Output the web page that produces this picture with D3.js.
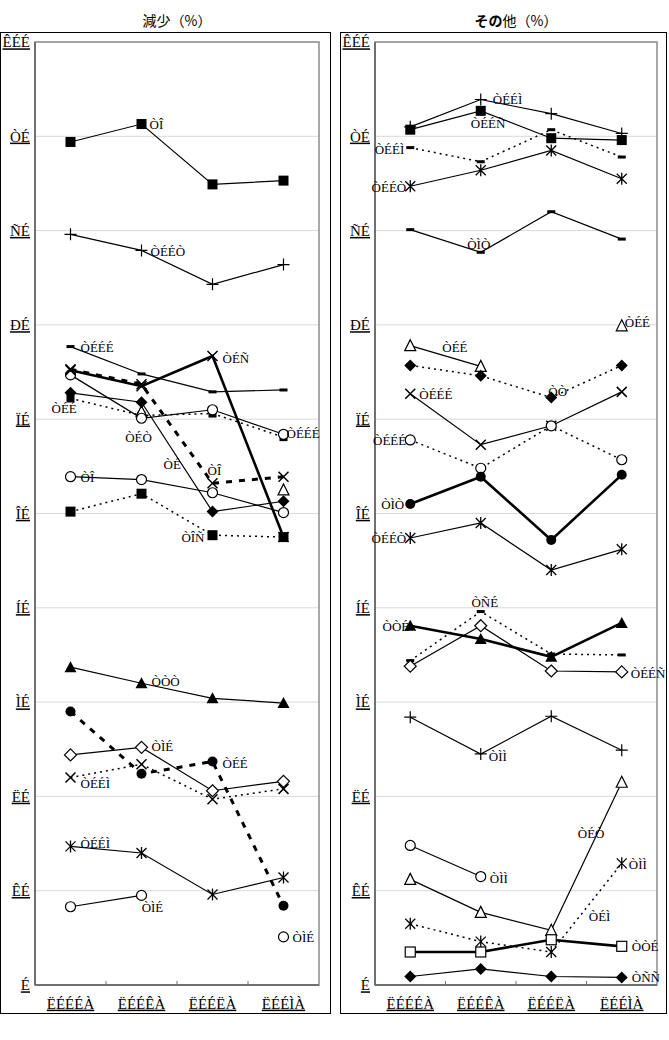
<!DOCTYPE html>
<html><head><meta charset="utf-8">
<script src="https://cdn.jsdelivr.net/npm/d3@7"></script>
<style>
body{margin:0;background:#fff;}
text{font-family:"Liberation Serif",serif;}
</style></head>
<body><svg id="c" width="669" height="1040"></svg>
<script>
// ---------- DATA ----------
const categories = ["ËÉÉÉÀ","ËÉÉÊÀ","ËÉÉËÀ","ËÉÉÌÀ"];
const yTicks = [0,10,20,30,40,50,60,70,80,90,100];

// left panel: 減少
const leftSquareTop   = [89.4, 91.3, 84.9, 85.3];
const leftPlus        = [79.6, 77.9, 74.3, 76.4];
const leftDashTop     = [67.7, 64.8, 62.9, 63.1];
const leftXThick      = [65.2, 63.5, 66.7, 47.5];
const leftXDashed     = [65.3, 63.7, 53.2, 53.9];
const leftCircleTop   = [64.7, 60.1, 61.0, 58.4];
const leftDiamond     = [62.8, 61.8, 50.2, 51.3];
const leftSquareDot   = [62.2, 60.4, 60.6, 58.1];
const leftTriOpen     = [null, 60.8, null, 52.5];
const leftCircleMid   = [53.9, 53.6, 52.2, 50.1];
const leftSquareLow   = [50.2, 52.1, 47.7, 47.5];
const leftTriFilled   = [33.7, 32.0, 30.4, 29.9];
const leftDotDashed   = [29.0, 22.4, 23.7, 8.4];
const leftDiamondOpen = [24.4, 25.2, 20.6, 21.6];
const leftXDotted     = [22.0, 23.4, 19.7, 20.8];
const leftAsterisk    = [14.7, 14.0, 9.6, 11.4];
const leftCircleLow   = [8.3, 9.5, null, 5.1];

// right panel: その他
const rightPlusTop    = [91.0, 93.9, 92.4, 90.3];
const rightSquare     = [90.7, 92.7, 89.8, 89.6];
const rightDashDot    = [88.8, 87.3, 90.7, 87.8];
const rightAstTop     = [84.7, 86.4, 88.5, 85.5];
const rightDashSolid  = [80.1, 77.7, 82.0, 79.1];
const rightTriOpenTop = [67.8, 65.6, null, 69.9];
const rightDiamondDot = [65.7, 64.6, 62.3, 65.7];
const rightX          = [62.7, 57.3, 59.3, 62.9];
const rightCircleDot  = [57.8, 54.8, 59.3, 55.7];
const rightDotThick   = [51.0, 53.9, 47.2, 54.1];
const rightAstMid     = [47.4, 49.0, 44.0, 46.2];
const rightTriThick   = [38.1, 36.7, 34.8, 38.4];
const rightDashDot2   = [34.4, 39.6, 35.1, 35.0];
const rightDiamondOpen= [33.8, 38.1, 33.3, 33.2];
const rightPlusLow    = [28.4, 24.5, 28.5, 24.9];
const rightTriOpenLow = [11.2, 7.7, 5.8, 21.5];
const rightCircleOpen = [14.8, 11.5, null, null];
const rightAstDot     = [6.5, 4.6, 3.5, 12.9];
const rightSquareOpen = [3.5, 3.5, 4.8, 4.1];
const rightDiamondLow = [0.9, 1.7, 0.9, 0.8];

// point label texts
const leftLabelTexts  = ["ÒÎ","ÒÉÉÒ","ÒÉÉÉ","ÒÉÑ","ÒÉÉ","ÒÉÒ","ÒÉ","ÒÎ","ÒÉÉÉ","ÒÎ","ÒÎÑ","ÒÒÒ","ÒÌÉ","ÒÉÉ","ÒÉÉÌ","ÒÉÉÌ","ÒÌÉ","ÒÌÉ"];
const rightLabelTexts = ["ÒÉÉÌ","ÒÉÉÑ","ÒÉÉÌ","ÒÉÉÒ","ÒÌÒ","ÒÉÉ","ÒÉÉ","ÒÒ","ÒÉÉÉ","ÒÉÉÉ","ÒÌÒ","ÒÉÉÒ","ÒÑÉ","ÒÒÉ","ÒÉÉÑ","ÒÌÌ","ÒÉÒ","ÒÌÌ","ÒÌÌ","ÒÉÌ","ÒÒÉ","ÒÑÑ"];

// ---------- STYLES / CONFIG ----------
const SOLID={w:1.2,dash:null}, THICK={w:2.6,dash:null}, DOT={w:1.5,dash:"2,4"}, BOLDDASH={w:3,dash:"6,7"};
const leftSeries = [
  {v:leftSquareTop,m:"sqF",s:SOLID},{v:leftPlus,m:"plus",s:SOLID},{v:leftDashTop,m:"dash",s:SOLID},
  {v:leftSquareDot,m:"sqFs",s:DOT},{v:leftTriOpen,m:"triO",s:SOLID},
  {v:leftDiamond,m:"diaF",s:SOLID},{v:leftCircleTop,m:"cirO",s:SOLID},
  {v:leftXDashed,m:"x",s:BOLDDASH},{v:leftXThick,m:"x",s:THICK},
  {v:leftCircleMid,m:"cirO",s:SOLID},{v:leftSquareLow,m:"sqF",s:DOT},
  {v:leftTriFilled,m:"triF",s:SOLID},{v:leftDotDashed,m:"cirF",s:BOLDDASH},
  {v:leftDiamondOpen,m:"diaO",s:SOLID},{v:leftXDotted,m:"x",s:DOT},
  {v:leftAsterisk,m:"ast",s:SOLID},{v:leftCircleLow,m:"cirO",s:SOLID}
];
const rightSeries = [
  {v:rightPlusTop,m:"plus",s:SOLID},{v:rightSquare,m:"sqF",s:SOLID},{v:rightDashDot,m:"dash",s:DOT},
  {v:rightAstTop,m:"ast",s:SOLID},{v:rightDashSolid,m:"dash",s:SOLID},{v:rightTriOpenTop,m:"triO",s:SOLID},
  {v:rightDiamondDot,m:"diaF",s:DOT},{v:rightX,m:"x",s:SOLID},{v:rightCircleDot,m:"cirO",s:DOT},
  {v:rightDotThick,m:"cirF",s:THICK},{v:rightAstMid,m:"ast",s:SOLID},
  {v:rightDashDot2,m:"dash",s:DOT},{v:rightDiamondOpen,m:"diaO",s:SOLID},{v:rightTriThick,m:"triF",s:THICK},
  {v:rightPlusLow,m:"plus",s:SOLID},{v:rightTriOpenLow,m:"triO",s:SOLID},{v:rightCircleOpen,m:"cirO",s:SOLID},
  {v:rightAstDot,m:"ast",s:DOT},{v:rightSquareOpen,m:"sqO",s:THICK},{v:rightDiamondLow,m:"diaF",s:SOLID}
];
// label anchors: [series index in arrays above, point index, dx, dy, anchor]
const leftLabelPos = [
  [0,1,8,5,"start"],[1,1,9,6,"start"],[2,0,10,5,"start"],[8,2,10,7,"start"],
  [3,0,-19,15,"start"],[6,1,-3,24,"middle"],[5,1,22,67,"start"],[7,2,-5,-8,"start"],
  [6,3,3,4,"start"],[9,0,10,5,"start"],[10,2,-8,7,"end"],[11,1,10,3,"start"],
  [13,1,10,4,"start"],[12,2,10,6,"start"],[14,0,10,10,"start"],[15,0,10,2,"start"],
  [16,1,11,17,"middle"],[16,3,9,5,"start"]
];
const rightLabelPos = [
  [0,1,12,4,"start"],[1,1,-10,17,"start"],[2,0,-6,6,"end"],[3,0,-4,6,"end"],
  [4,1,-2,-3,"middle"],[5,0,32,6,"start"],[5,3,3,1,"start"],[6,2,-3,-2,"start"],
  [7,0,9,5,"start"],[8,0,-4,5,"end"],[9,0,-6,5,"end"],[10,0,-4,5,"end"],
  [11,1,4,-5,"middle"],[13,0,-1,5,"end"],[12,3,9,6,"start"],[14,1,8,7,"start"],
  [15,3,-44,56,"start"],[16,1,9,6,"start"],[17,3,7,6,"start"],[17,3,-33,58,"start"],
  [18,3,10,5,"start"],[19,3,10,5,"start"]
];

// ---------- DRAW ----------
const svg = d3.select("#c");
const moji = n => String(n).replace(/[0-9]/g, d => String.fromCharCode(d.charCodeAt(0)+0x99));

function marker(g,type,x,y){
  const k="#000";
  switch(type){
    case "sqF": g.append("rect").attr("x",x-5).attr("y",y-5).attr("width",10).attr("height",10).attr("fill",k);break;
    case "sqFs": g.append("rect").attr("x",x-4).attr("y",y-4).attr("width",8).attr("height",8).attr("fill",k);break;
    case "sqO": g.append("rect").attr("x",x-5).attr("y",y-5).attr("width",10).attr("height",10).attr("fill","#fff").attr("stroke",k).attr("stroke-width",1.2);break;
    case "plus": g.append("path").attr("d",`M${x-6},${y}H${x+6}M${x},${y-6}V${y+6}`).attr("stroke",k).attr("stroke-width",1.2);break;
    case "dash": g.append("rect").attr("x",x-4).attr("y",y-1.5).attr("width",8).attr("height",3).attr("fill",k);break;
    case "x": g.append("path").attr("d",`M${x-5},${y-5}L${x+5},${y+5}M${x-5},${y+5}L${x+5},${y-5}`).attr("stroke",k).attr("stroke-width",1.5);break;
    case "ast": g.append("path").attr("d",`M${x-5},${y-5}L${x+5},${y+5}M${x-5},${y+5}L${x+5},${y-5}M${x},${y-6}V${y+6}`).attr("stroke",k).attr("stroke-width",1.3);break;
    case "cirO": g.append("circle").attr("cx",x).attr("cy",y).attr("r",5).attr("fill","#fff").attr("stroke",k).attr("stroke-width",1.2);break;
    case "cirF": g.append("circle").attr("cx",x).attr("cy",y).attr("r",5).attr("fill",k);break;
    case "diaF": g.append("path").attr("d",`M${x},${y-6}L${x+6},${y}L${x},${y+6}L${x-6},${y}Z`).attr("fill",k);break;
    case "diaO": g.append("path").attr("d",`M${x},${y-6}L${x+6},${y}L${x},${y+6}L${x-6},${y}Z`).attr("fill","#fff").attr("stroke",k).attr("stroke-width",1.2);break;
    case "triF": g.append("path").attr("d",`M${x},${y-6}L${x+6},${y+5}L${x-6},${y+5}Z`).attr("fill",k);break;
    case "triO": g.append("path").attr("d",`M${x},${y-6}L${x+5.5},${y+5}L${x-5.5},${y+5}Z`).attr("fill","#fff").attr("stroke",k).attr("stroke-width",1.2);break;
  }
}

function panel(opt){
  const {ox,x0,x1,title,series,labelPos,labelTexts,titleBold} = opt;
  const top=42,bottom=985;
  const g = svg.append("g");
  // outer frame
  g.append("rect").attr("x",ox).attr("y",32.5).attr("width",opt.ow).attr("height",981).attr("fill","none").attr("stroke","#000").attr("stroke-width",1);
  // title
  const t = g.append("text").attr("x",(x0+x1)/2).attr("y",26).attr("text-anchor","middle")
    .style("font-family","'Noto Sans CJK JP',sans-serif").style("font-size","14px");
  if(titleBold){ t.append("tspan").style("font-weight","bold").text(titleBold); }
  t.append("tspan").text(title);

  const x = d3.scaleBand().domain(categories).range([x0,x1]);
  const y = d3.scaleLinear().domain([0,100]).range([bottom,top]);
  const cx = c => x(c)+x.bandwidth()/2;

  // gridlines
  g.append("g").selectAll("line").data(yTicks.filter(d=>d>0)).join("line")
    .attr("x1",x0).attr("x2",x1).attr("y1",d=>y(d)).attr("y2",d=>y(d))
    .attr("stroke","#d9d9d9").attr("stroke-width",1);
  // plot frame
  g.append("rect").attr("x",x0).attr("y",top).attr("width",x1-x0).attr("height",bottom-top)
    .attr("fill","none").attr("stroke","#8c8c8c").attr("stroke-width",1.5);
  g.append("line").attr("x1",x0).attr("x2",x0).attr("y1",top).attr("y2",bottom).attr("stroke","#707070").attr("stroke-width",2);
  g.append("line").attr("x1",x0).attr("x2",x1).attr("y1",bottom).attr("y2",bottom).attr("stroke","#707070").attr("stroke-width",2);

  // y axis
  const ya = g.append("g").attr("transform",`translate(${x0},0)`)
    .call(d3.axisLeft(y).tickValues(yTicks).tickFormat(moji).tickSize(0).tickPadding(5));
  ya.select(".domain").remove();
  ya.selectAll("text").style("font-family","'Liberation Serif',serif").style("font-size","15px")
    .attr("text-decoration","underline").attr("fill","#000");
  // x axis
  const xa = g.append("g").attr("transform",`translate(0,${bottom})`)
    .call(d3.axisBottom(x).tickSize(0).tickPadding(13));
  xa.select(".domain").remove();
  xa.selectAll("text").style("font-family","'Liberation Serif',serif").style("font-size","15px")
    .attr("text-decoration","underline").attr("fill","#000");
  // inward ticks at band boundaries
  g.append("g").selectAll("line").data(categories.slice(1)).join("line")
    .attr("x1",d=>x(d)).attr("x2",d=>x(d)).attr("y1",bottom).attr("y2",bottom-4)
    .attr("stroke","#707070").attr("stroke-width",1);

  // series
  const line = d3.line().defined(d=>d.v!=null).x(d=>cx(d.c)).y(d=>y(d.v));
  series.forEach(s=>{
    const pts = categories.map((c,i)=>({c,v:s.v[i]}));
    g.append("path").datum(pts).attr("d",line).attr("fill","none").attr("stroke","#000")
      .attr("stroke-width",s.s.w).attr("stroke-dasharray",s.s.dash);
    const mg = g.append("g");
    pts.filter(p=>p.v!=null).forEach(p=>marker(mg,s.m,cx(p.c),y(p.v)));
  });
  // labels
  labelPos.forEach((lp,i)=>{
    const s=series[lp[0]], c=categories[lp[1]];
    g.append("text").attr("x",cx(c)+lp[2]).attr("y",y(s.v[lp[1]])+lp[3]).attr("text-anchor",lp[4])
      .style("font-size","13px").text(labelTexts[i]);
  });
}

// map label series indices to draw-order arrays
panel({ox:0.5,ow:330,x0:35,x1:319,title:"減少（%）",series:leftSeries,
  labelPos:leftLabelPos.map(l=>{const map=[0,1,2,3,4,5,6,7,8,9,10,11,12,13,14,15,16];return l;}),labelTexts:leftLabelTexts});
panel({ox:340.5,ow:326,x0:375,x1:657,title:"他（%）",titleBold:"その",series:rightSeries,labelPos:rightLabelPos,labelTexts:rightLabelTexts});
</script></body></html>
